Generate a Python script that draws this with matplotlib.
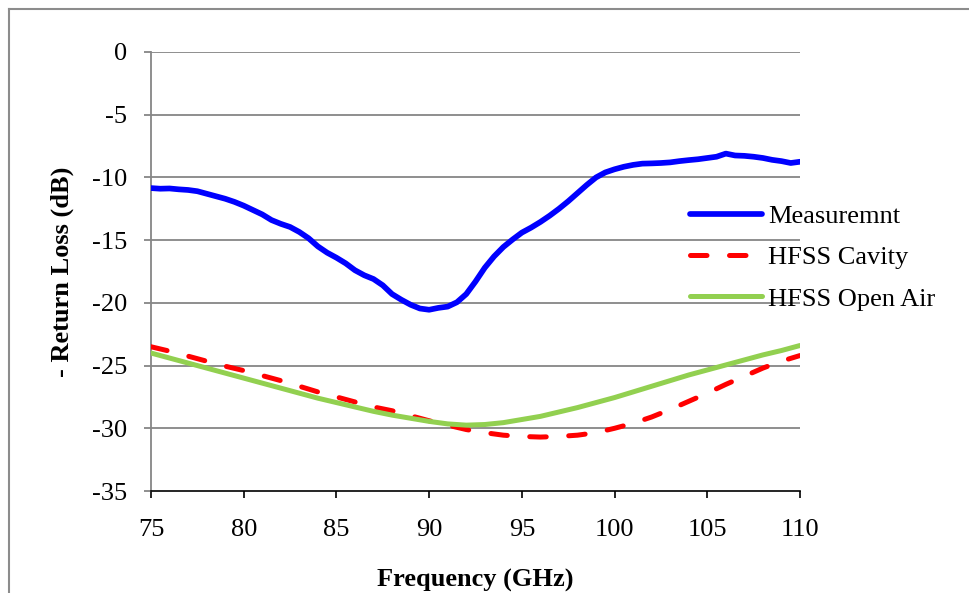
import matplotlib
matplotlib.use("Agg")
import matplotlib.pyplot as plt
from matplotlib.lines import Line2D

plt.rcParams['font.family'] = ['Liberation Serif', 'DejaVu Serif']

# Measured return loss, 0.5 GHz steps
meas_freq = [75.0 + 0.5 * i for i in range(71)]
meas_db = [
    -10.85, -10.90, -10.88, -10.95, -11.00, -11.10, -11.30, -11.50, -11.70, -11.95,
    -12.25, -12.60, -12.95, -13.40, -13.70, -13.95, -14.35, -14.85, -15.50, -16.00,
    -16.40, -16.85, -17.40, -17.80, -18.10, -18.60, -19.30, -19.75, -20.15, -20.45,
    -20.55, -20.40, -20.30, -19.95, -19.30, -18.30, -17.20, -16.30, -15.55, -14.95,
    -14.40, -14.00, -13.55, -13.05, -12.50, -11.90, -11.25, -10.60, -10.00, -9.60,
    -9.35, -9.15, -9.00, -8.90, -8.88, -8.85, -8.80, -8.70, -8.62, -8.55,
    -8.45, -8.35, -8.10, -8.25, -8.28, -8.35, -8.45, -8.60, -8.70, -8.85,
    -8.75,
]

# Simulated return loss, 1 GHz steps
sim_freq = list(range(75, 111))
cavity_db = [
    -23.5, -23.85, -24.25, -24.65, -25.05, -25.4, -25.8, -26.2, -26.65, -27.1,
    -27.5, -27.9, -28.3, -28.6, -29.0, -29.4, -29.75, -30.1, -30.35, -30.55,
    -30.65, -30.7, -30.65, -30.55, -30.35, -30.0, -29.6, -29.1, -28.5, -27.85,
    -27.2, -26.5, -25.85, -25.2, -24.65, -24.2,
]
open_air_db = [
    -24.0, -24.4, -24.8, -25.2, -25.6, -26.0, -26.4, -26.8, -27.2, -27.6,
    -27.95, -28.3, -28.65, -28.95, -29.2, -29.45, -29.65, -29.75, -29.7, -29.55,
    -29.3, -29.05, -28.7, -28.35, -27.95, -27.55, -27.1, -26.65, -26.2, -25.75,
    -25.35, -24.95, -24.55, -24.15, -23.8, -23.4,
]

x_ticks = [75, 80, 85, 90, 95, 100, 105, 110]
y_ticks = [0, -5, -10, -15, -20, -25, -30, -35]

W, H = 969, 593
fig = plt.figure(figsize=(W / 100, H / 100), dpi=100)
ax = fig.add_axes([151 / W, 1 - 491 / H, (800 - 151) / W, (491 - 52) / H])

grid_col = '#868686'
lw = 3.6
fs = 19

ax.plot(meas_freq, meas_db, color='#0000FF', lw=lw + 0.5, solid_capstyle='round',
        solid_joinstyle='round', label='Measuremnt', zorder=4)
ax.plot(sim_freq, cavity_db, color='#FF0000', lw=lw, dashes=(3.3, 4.5),
        dash_capstyle='round', label='HFSS Cavity', zorder=3)
ax.plot(sim_freq, open_air_db, color='#92D050', lw=lw, solid_capstyle='round',
        label='HFSS Open Air', zorder=3)

ax.set_xlim(75, 110)
ax.set_ylim(-35, 0)
ax.set_xticks(x_ticks)
ax.set_yticks(y_ticks)
ax.set_xticklabels([str(v) for v in x_ticks])
ax.set_yticklabels([str(v) for v in y_ticks])

for yv in y_ticks[:-1]:
    ax.axhline(yv, color=grid_col, lw=1.3, zorder=1)

for s in ('top', 'right'):
    ax.spines[s].set_visible(False)
ax.spines['left'].set_color(grid_col)
ax.spines['left'].set_linewidth(1.3)
ax.spines['bottom'].set_color('black')
ax.spines['bottom'].set_linewidth(1.2)
ax.spines['bottom'].set_zorder(5)

ax.tick_params(axis='y', direction='out', length=5, width=1.3, color=grid_col,
               labelsize=fs, pad=12)
ax.tick_params(axis='x', direction='out', length=5, width=1.2, color='black',
               labelsize=fs, pad=15)

ax.set_xlabel('Frequency (GHz)', fontsize=fs, fontweight='bold', labelpad=20)
ax.set_ylabel('- Return Loss (dB)', fontsize=fs, fontweight='bold', labelpad=13)

leg = ax.legend(loc='center left', bbox_to_anchor=(690 / W, 1 - 257.5 / H),
                bbox_transform=fig.transFigure, frameon=False, fontsize=fs,
                handlelength=2.73, handletextpad=0.23, labelspacing=0.68,
                borderpad=0, borderaxespad=0)

# Outer frame (top and left edges)
fig.add_artist(Line2D([9 / W, 1.0], [1 - 9 / H, 1 - 9 / H], transform=fig.transFigure,
                      color='#8c8c8c', lw=1.5))
fig.add_artist(Line2D([9 / W, 9 / W], [0.0, 1 - 9 / H], transform=fig.transFigure,
                      color='#8c8c8c', lw=1.5))

fig.savefig('out.png', dpi=100)
